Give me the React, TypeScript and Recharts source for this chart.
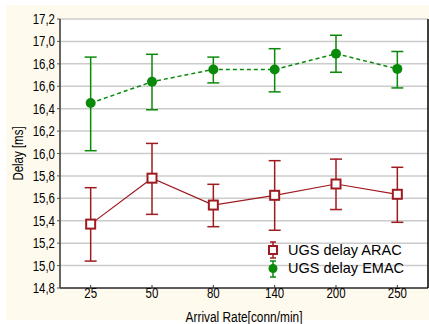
import React from 'react';
import { LineChart, Line, XAxis, YAxis, CartesianGrid, ErrorBar } from 'recharts';

const categories = ['25', '50', '80', '140', '200', '250'];
const emacMean = [16.45, 16.64, 16.75, 16.75, 16.89, 16.755];
const emacLow = [16.025, 16.39, 16.63, 16.55, 16.725, 16.585];
const emacHigh = [16.86, 16.885, 16.86, 16.935, 17.055, 16.91];
const aracMean = [15.37, 15.78, 15.54, 15.627, 15.728, 15.636];
const aracLow = [15.04, 15.457, 15.347, 15.315, 15.5, 15.386];
const aracHigh = [15.695, 16.09, 15.725, 15.936, 15.95, 15.877];
const yTicks = [14.8, 15.0, 15.2, 15.4, 15.6, 15.8, 16.0, 16.2, 16.4, 16.6, 16.8, 17.0, 17.2];
const seriesNames = ['UGS delay ARAC', 'UGS delay EMAC'];

const RED = '#9e1b20';
const GREEN = '#0a8a0a';
const SANS = "'Liberation Sans', Arial, sans-serif";
const SQ = 0.82;

const data = categories.map((c, i) => ({
  cat: c,
  arac: aracMean[i],
  aracErr: [aracMean[i] - aracLow[i], aracHigh[i] - aracMean[i]],
  emac: emacMean[i],
  emacErr: [emacMean[i] - emacLow[i], emacHigh[i] - emacMean[i]],
}));

const fmt = (v: number) => v.toFixed(1).replace('.', ',');

const SquareDot = (props: any) => {
  const { cx, cy } = props;
  if (cx == null || cy == null) return null;
  return <rect x={cx - 4.5} y={cy - 4.5} width={9} height={9} fill="#fff" stroke={RED} strokeWidth={2} />;
};

const CircleDot = (props: any) => {
  const { cx, cy } = props;
  if (cx == null || cy == null) return null;
  return <circle cx={cx} cy={cy} r={5} fill={GREEN} stroke="none" />;
};

const XTick = (props: any) => {
  const { x, y, payload } = props;
  return (
    <text transform={`translate(${x},${y + 13}) scale(${SQ},1)`} textAnchor="middle" fontFamily={SANS} fontSize={14} fill="#000">
      {payload.value}
    </text>
  );
};

const YTick = (props: any) => {
  const { x, y, payload } = props;
  return (
    <text transform={`translate(${x},${y + 5}) scale(${SQ},1)`} textAnchor="end" fontFamily={SANS} fontSize={14} fill="#000">
      {fmt(payload.value)}
    </text>
  );
};

const LegendBox = () => (
  <svg width={160} height={40} style={{ position: 'absolute', left: 262, top: 241, display: 'block' }}>
    <g stroke={RED} strokeWidth={1.5}>
      <line x1={11} x2={11} y1={1} y2={17} />
      <line x1={8} x2={14} y1={1} y2={1} />
      <line x1={8} x2={14} y1={17} y2={17} />
    </g>
    <rect x={7} y={5} width={8} height={8} fill="#fff" stroke={RED} strokeWidth={2} />
    <text x={26} y={14} fontFamily={SANS} fontSize={14.5} fill="#000">{seriesNames[0]}</text>
    <g stroke={GREEN} strokeWidth={1.5}>
      <line x1={11} x2={11} y1={20} y2={36} />
      <line x1={8} x2={14} y1={20} y2={20} />
      <line x1={8} x2={14} y1={36} y2={36} />
    </g>
    <circle cx={11} cy={27.5} r={4.5} fill={GREEN} />
    <text x={26} y={32} fontFamily={SANS} fontSize={14.5} fill="#000">{seriesNames[1]}</text>
  </svg>
);

export default function App() {
  return (
    <div style={{ position: 'fixed', left: 0, top: 0, width: 429, height: 324, background: '#fff', overflow: 'hidden' }}>
      <div style={{ position: 'absolute', left: 6, top: 5, width: 423, height: 315, background: '#fffaee' }} />
      <div style={{ position: 'absolute', left: 0, top: 0 }}>
        <LineChart width={429} height={324} data={data} margin={{ top: 19, right: 0, left: 0, bottom: 0 }}>
          <CartesianGrid vertical={false} stroke="#cccccc" strokeWidth={1.5} fill="#ffffff" yAxisId="left" />
          <XAxis
            dataKey="cat"
            scale="band"
            height={36}
            tick={<XTick />}
            tickSize={-3}
            tickMargin={0}
            axisLine={{ stroke: '#333', strokeWidth: 1.5 }}
            tickLine={{ stroke: '#333' }}
            label={{
              content: () => (
                <text transform={`translate(244,322) scale(${SQ},1)`} textAnchor="middle" fontFamily={SANS} fontSize={14.5} fill="#000">
                  Arrival Rate[conn/min]
                </text>
              ),
            }}
          />
          <XAxis
            xAxisId="top"
            dataKey="cat"
            scale="band"
            orientation="top"
            height={0}
            tickFormatter={() => ''}
            tickSize={-3}
            axisLine={{ stroke: '#444', strokeWidth: 1.5 }}
            tickLine={{ stroke: '#444' }}
          />
          <YAxis
            yAxisId="left"
            domain={[14.8, 17.2]}
            ticks={yTicks}
            interval={0}
            width={60}
            tick={<YTick />}
            tickSize={3}
            tickMargin={2}
            axisLine={{ stroke: '#333', strokeWidth: 1.5 }}
            tickLine={{ stroke: '#555' }}
            label={{
              content: () => (
                <text transform={`translate(23,153.5) rotate(-90) scale(${SQ},1)`} textAnchor="middle" fontFamily={SANS} fontSize={14} fill="#000">
                  Delay [ms]
                </text>
              ),
            }}
          />
          <YAxis yAxisId="right" orientation="right" width={1} tick={false} tickLine={false} axisLine={{ stroke: '#000', strokeWidth: 1.5 }} />
          <Line
            yAxisId="left"
            xAxisId={0}
            dataKey="arac"
            name={seriesNames[0]}
            stroke={RED}
            strokeWidth={1.2}
            dot={<SquareDot />}
            activeDot={false}
            isAnimationActive={false}
          >
            <ErrorBar dataKey="aracErr" width={6} stroke={RED} strokeWidth={1.5} direction="y" />
          </Line>
          <Line
            yAxisId="left"
            xAxisId={0}
            dataKey="emac"
            name={seriesNames[1]}
            stroke={GREEN}
            strokeWidth={1.5}
            strokeDasharray="4 3"
            dot={<CircleDot />}
            activeDot={false}
            isAnimationActive={false}
          >
            <ErrorBar dataKey="emacErr" width={6} stroke={GREEN} strokeWidth={1.5} direction="y" />
          </Line>
        </LineChart>
      </div>
      <LegendBox />
    </div>
  );
}
